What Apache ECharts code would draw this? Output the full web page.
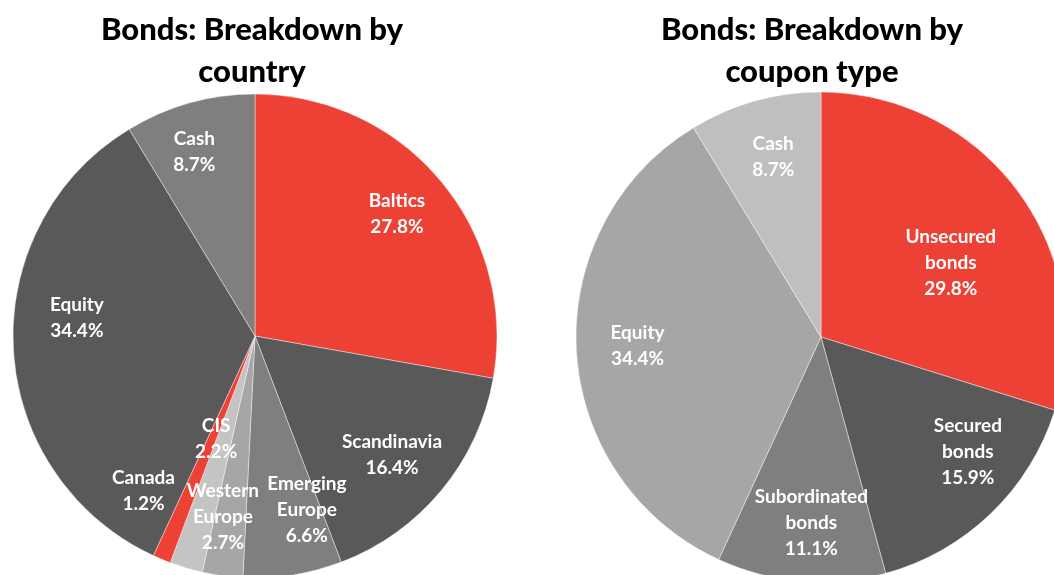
<!DOCTYPE html>
<html>
<head>
<meta charset="utf-8">
<script src="https://cdn.jsdelivr.net/npm/echarts@6/dist/echarts.min.js"></script>
<style>
html,body{margin:0;padding:0;background:#fff;}
#chart{width:1054px;height:575px;}
</style>
</head>
<body>
<div id="chart"></div>
<script>
// ---- data ----
const countryCategories = ['Baltics', 'Scandinavia', 'Emerging Europe', 'Western Europe', 'CIS', 'Canada', 'Equity', 'Cash'];
const countryValues = [27.8, 16.4, 6.6, 2.7, 2.2, 1.2, 34.4, 8.7];
const couponCategories = ['Unsecured bonds', 'Secured bonds', 'Subordinated bonds', 'Equity', 'Cash'];
const couponValues = [29.8, 15.9, 11.1, 34.4, 8.7];
const titleCountry = 'Bonds: Breakdown by\ncountry';
const titleCoupon = 'Bonds: Breakdown by\ncoupon type';

// ---- styling / layout ----
const RED = '#EE4136';
const countryColors = [RED, '#595959', '#7F7F7F', '#A6A6A6', '#C4C4C4', RED, '#595959', '#7F7F7F'];
const couponColors = [RED, '#595959', '#7F7F7F', '#A6A6A6', '#BFBFBF'];
const FONT = 'Lato, "Open Sans", sans-serif';

const leftPie = { cx: 255, cy: 336, r: 242 };
const rightPie = { cx: 821, cy: 337, r: 245 };

// label placement tweaks (radius fraction, angle shift in degrees clockwise)
const countryLabelAdjust = {
  'Baltics': { rf: 0.773, da: -0.7 },
  'Scandinavia': { rf: 0.75, da: 1.4 },
  'Emerging Europe': { rf: 0.75, da: -7.6 },
  'Western Europe': { rf: 0.76, da: 2.3 },
  'CIS': { rf: 0.455, da: 4.1 },
  'Canada': { rf: 0.79, da: 13 },
  'Equity': { rf: 0.74, da: 9.2 },
  'Cash': { rf: 0.80, da: -2.6 }
};
const couponLabelAdjust = {
  'Unsecured bonds': { rf: 0.61, da: 6.6 },
  'Secured bonds': { rf: 0.76, da: -8.1 },
  'Subordinated bonds': { rf: 0.76, da: -1.7 },
  'Equity': { rf: 0.75, da: 0.5 },
  'Cash': { rf: 0.76, da: 0.8 }
};

function makeLabelLayout(geo, cats, adjust) {
  return function (p) {
    const lr = p.labelRect;
    const lx = lr.x + lr.width / 2, ly = lr.y + lr.height / 2;
    let ang = Math.atan2(ly - geo.cy, lx - geo.cx);
    const a = adjust[cats[p.dataIndex]] || { rf: 0.76, da: 0 };
    ang += a.da * Math.PI / 180;
    return {
      x: geo.cx + a.rf * geo.r * Math.cos(ang),
      y: geo.cy + a.rf * geo.r * Math.sin(ang)
    };
  };
}

function pieSeries(cats, vals, colors, geo, adjust) {
  return {
    type: 'pie',
    center: [geo.cx, geo.cy],
    radius: [0, geo.r],
    startAngle: 90,
    clockwise: true,
    avoidLabelOverlap: false,
    animation: false,
    silent: true,
    data: cats.map((c, i) => ({ name: c, value: vals[i], itemStyle: { color: colors[i] } })),
    itemStyle: { borderColor: 'rgba(255,255,255,0.6)', borderWidth: 0.7 },
    label: {
      show: true,
      position: 'inside',
      color: '#ffffff',
      fontFamily: FONT,
      fontWeight: 'bold',
      fontSize: 19,
      lineHeight: 26,
      align: 'center',
      formatter: p => p.name.replace(/ /g, '\n') + '\n' + p.value.toFixed(1) + '%'
    },
    labelLine: { show: false },
    labelLayout: makeLabelLayout(geo, cats, adjust)
  };
}

const chart = echarts.init(document.getElementById('chart'), null, { renderer: 'canvas' });
chart.setOption({
  backgroundColor: '#ffffff',
  animation: false,
  title: [
    {
      text: titleCountry, left: 252, top: 9, padding: 0, textAlign: 'center',
      textStyle: { fontFamily: FONT, fontWeight: 900, fontSize: 31, lineHeight: 42, color: '#000000' }
    },
    {
      text: titleCoupon, left: 812, top: 9, padding: 0, textAlign: 'center',
      textStyle: { fontFamily: FONT, fontWeight: 900, fontSize: 31, lineHeight: 42, color: '#000000' }
    }
  ],
  series: [
    pieSeries(countryCategories, countryValues, countryColors, leftPie, countryLabelAdjust),
    pieSeries(couponCategories, couponValues, couponColors, rightPie, couponLabelAdjust)
  ]
});
</script>
</body>
</html>
